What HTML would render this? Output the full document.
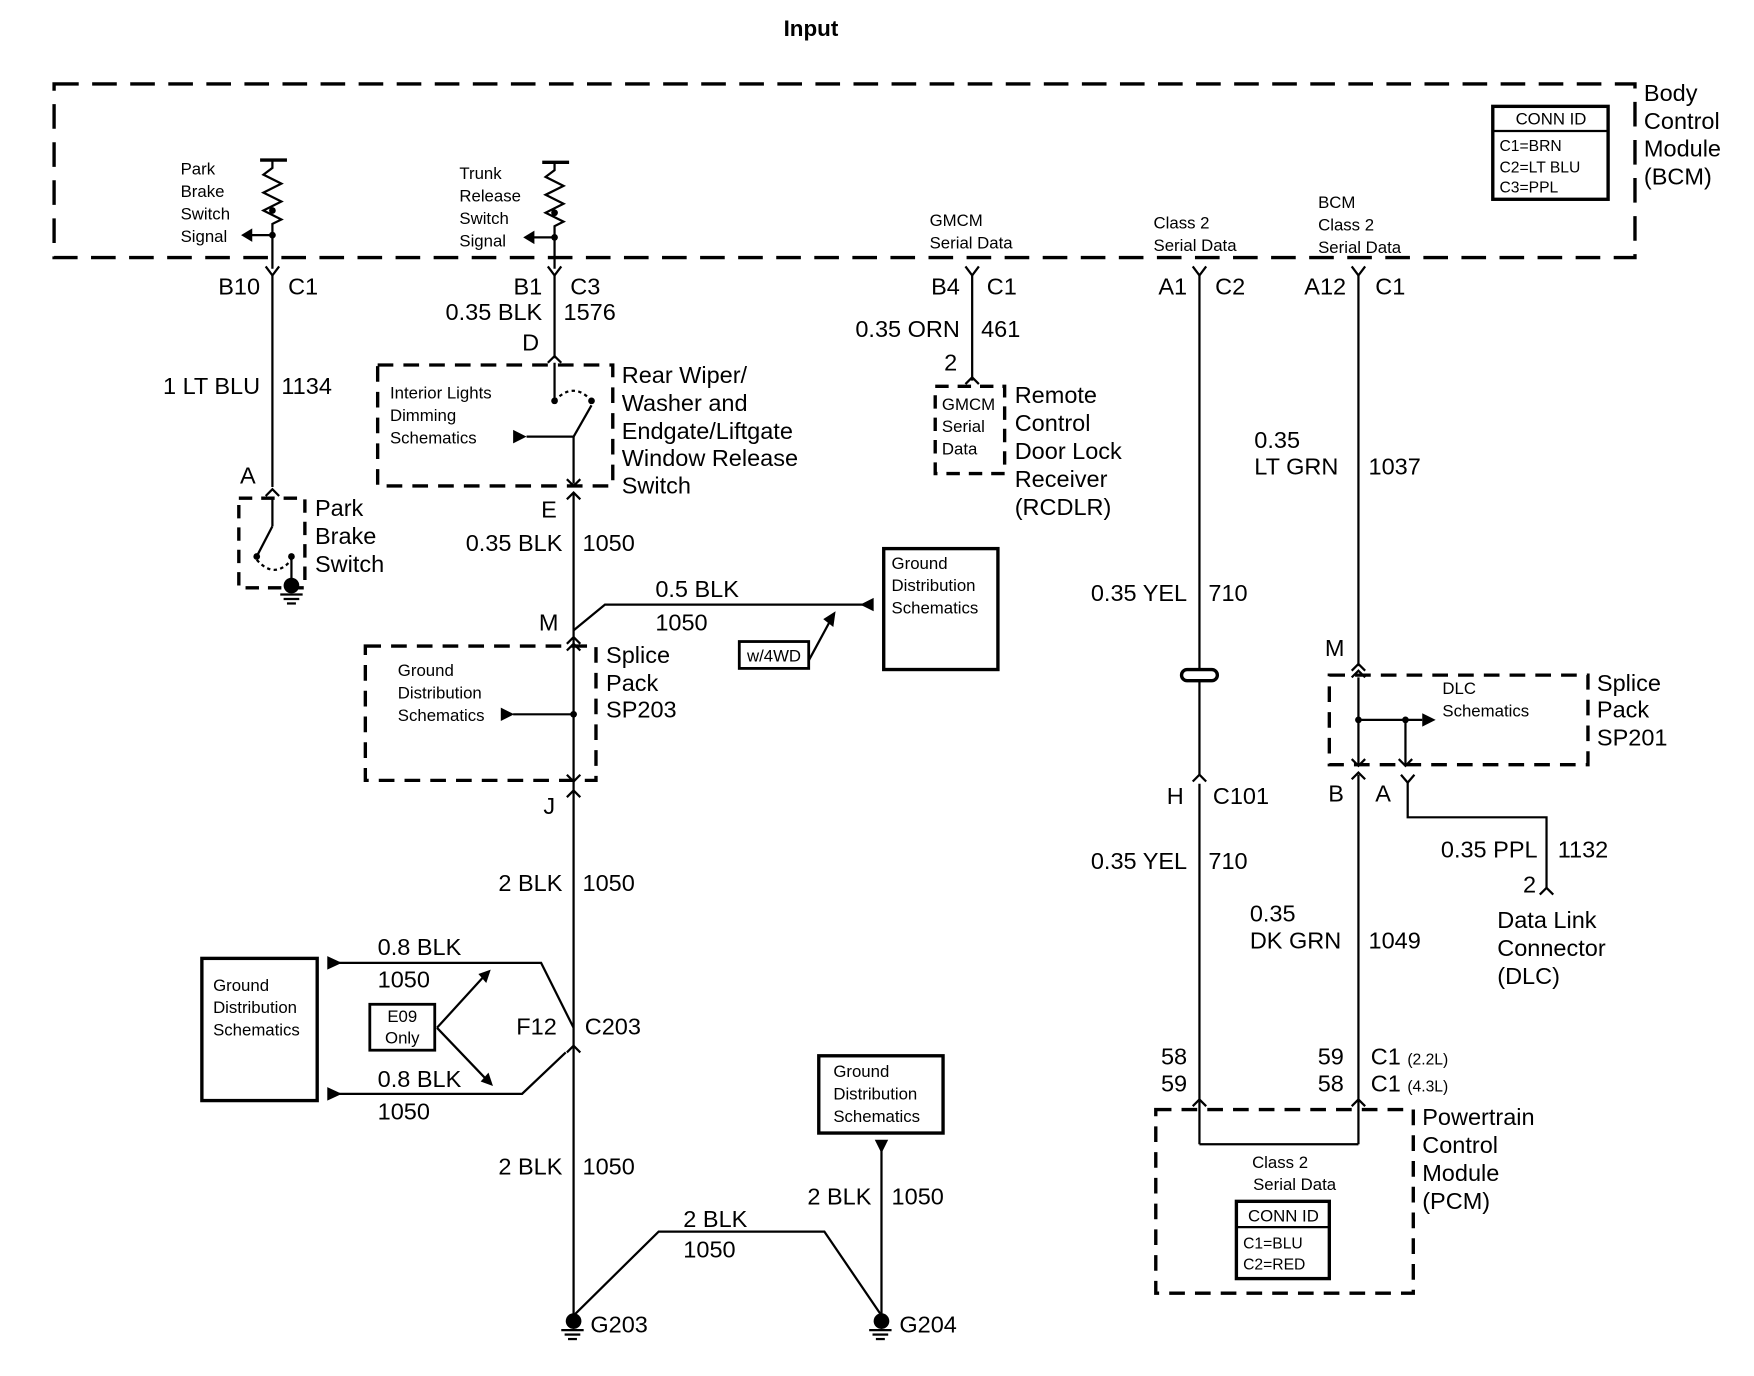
<!DOCTYPE html>
<html><head><meta charset="utf-8"><style>
html,body{margin:0;padding:0;background:#fff;}
svg{display:block;}
text{font-family:"Liberation Sans",Arial,sans-serif;fill:#000;}
.l{font-size:21px;}
.s{font-size:15px;}
.x{font-size:14px;}
</style></head><body>
<svg width="1754" height="1376" viewBox="0 0 1566 1229" xmlns="http://www.w3.org/2000/svg">
<g stroke="#000" fill="none" stroke-width="2">
<rect x="48" y="75" width="1412" height="155" stroke-width="3" stroke-dasharray="22,12"/>
<rect x="1333" y="95" width="103" height="83" stroke-width="3"/>
<line x1="1333" y1="117" x2="1436" y2="117"/>
<line x1="232" y1="143" x2="256" y2="143" stroke-width="3"/>
<polyline points="243,143 243,150 235,156 251,164 235,172 251,180 235,188 251,196 243,200 243,240"/>
<line x1="243" y1="210" x2="222" y2="210"/>
<line x1="484" y1="145" x2="508" y2="145" stroke-width="3"/>
<polyline points="495,145 495,152 487,158 503,166 487,174 503,182 487,190 503,198 495,202 495,240"/>
<line x1="495" y1="212" x2="474" y2="212"/>
<polyline points="237,238 243,246 249,238"/><line x1="243" y1="246" x2="243" y2="435"/>
<polyline points="489,238 495,246 501,238"/><line x1="495" y1="246" x2="495" y2="320"/>
<polyline points="862,238 868,246 874,238"/><line x1="868" y1="246" x2="868" y2="340"/>
<polyline points="1065,238 1071,246 1077,238"/><line x1="1071" y1="246" x2="1071" y2="598"/>
<polyline points="1207,238 1213,246 1219,238"/><line x1="1213" y1="246" x2="1213" y2="595"/>
<rect x="213" y="445" width="59" height="80" stroke-dasharray="12,8" stroke-width="3"/>
<polyline points="237,443 243,437 249,443"/>
<line x1="243" y1="445" x2="243" y2="470"/>
<line x1="243" y1="470" x2="229" y2="497"/>
<path d="M229,500 Q245,518 260,500" stroke-dasharray="3,3"/>
<line x1="260" y1="497" x2="260" y2="520"/>
<line x1="250" y1="531" x2="270" y2="531"/><line x1="253" y1="535" x2="267" y2="535"/><line x1="256" y1="539" x2="264" y2="539"/>
<rect x="337" y="326" width="210" height="108" stroke-dasharray="14,9" stroke-width="3"/>
<polyline points="489,324 495,318 501,324"/>
<line x1="495" y1="324" x2="495" y2="358"/>
<path d="M495,358 Q512,340 528,358" stroke-dasharray="3,3"/>
<line x1="512" y1="390" x2="528" y2="362"/>
<line x1="470" y1="390" x2="512" y2="390"/>
<line x1="512" y1="390" x2="512" y2="432"/>
<polyline points="506,428 512,434 518,428"/>
<polyline points="506,446 512,440 518,446"/>
<line x1="512" y1="440" x2="512" y2="1180"/>
<polyline points="512,563 540,540 772,540"/>
<rect x="789" y="490" width="102" height="108" stroke-width="3"/>
<rect x="660" y="573" width="62" height="24" stroke-width="2.5"/>
<line x1="722" y1="590" x2="742" y2="553"/>
<rect x="326" y="577" width="206" height="120" stroke-dasharray="14,9" stroke-width="3"/>
<polyline points="506,575 512,569 518,575"/>
<polyline points="506,581 512,575 518,581"/>
<line x1="458" y1="638" x2="512" y2="638"/>
<polyline points="506,692 512,698 518,692"/>
<polyline points="506,712 512,706 518,712"/>
<rect x="180" y="856" width="103" height="127" stroke-width="3"/>
<polyline points="300,860 483,860 512,918"/>
<polyline points="300,977 466,977 505,940"/>
<rect x="330" y="897" width="58" height="41" stroke-width="2.5"/>
<line x1="390" y1="918" x2="432" y2="872"/>
<line x1="390" y1="918" x2="434" y2="964"/>
<polyline points="506,940 512,934 518,940"/>
<polyline points="512,1175 588,1100 736,1100 787,1175"/>
<rect x="731" y="943" width="111" height="69" stroke-width="3"/>
<line x1="787" y1="1020" x2="787" y2="1180"/>
<line x1="501" y1="1188" x2="521" y2="1188"/><line x1="504" y1="1192" x2="518" y2="1192"/><line x1="507" y1="1196" x2="515" y2="1196"/>
<line x1="776" y1="1188" x2="796" y2="1188"/><line x1="779" y1="1192" x2="793" y2="1192"/><line x1="782" y1="1196" x2="790" y2="1196"/>
<polyline points="862,343 868,337 874,343"/>
<rect x="835" y="345" width="62" height="78" stroke-dasharray="12,8" stroke-width="3"/>
<rect x="1055" y="598" width="32" height="10" rx="5" stroke-width="3"/>
<line x1="1071" y1="608" x2="1071" y2="692"/>
<polyline points="1065,698 1071,692 1077,698"/>
<line x1="1071" y1="700" x2="1071" y2="1022"/>
<polyline points="1065,988 1071,982 1077,988"/>
<line x1="1071" y1="1022" x2="1213" y2="1022"/>
<polyline points="1207,599 1213,593 1219,599"/>
<rect x="1187" y="603" width="231" height="80" stroke-dasharray="14,9" stroke-width="3"/>
<polyline points="1207,605 1213,599 1219,605"/>
<line x1="1213" y1="605" x2="1213" y2="683"/>
<line x1="1213" y1="643" x2="1270" y2="643"/>
<line x1="1255" y1="643" x2="1255" y2="683"/>
<polyline points="1207,678 1213,684 1219,678"/>
<polyline points="1249,678 1255,684 1261,678"/>
<polyline points="1207,696 1213,690 1219,696"/>
<polyline points="1251,692 1257,699 1263,692"/>
<polyline points="1257,699 1257,730 1381,730 1381,793"/>
<polyline points="1375,799 1381,793 1387,799"/>
<line x1="1213" y1="692" x2="1213" y2="1022"/>
<polyline points="1207,988 1213,982 1219,988"/>
<rect x="1032" y="991" width="230" height="164" stroke-dasharray="14,9" stroke-width="3"/>
<rect x="1104" y="1073" width="83" height="69" stroke-width="3"/>
<line x1="1104" y1="1096" x2="1187" y2="1096"/>
</g>
<g fill="#000">
<polygon points="215,210 225,204 225,216"/>
<polygon points="467,212 477,206 477,218"/>
<circle cx="243" cy="188" r="3"/><circle cx="495" cy="190" r="3"/>
<circle cx="243" cy="210" r="3"/><circle cx="495" cy="212" r="3"/>
<circle cx="495" cy="358" r="3"/><circle cx="528" cy="358" r="3"/>
<circle cx="229" cy="497" r="3"/><circle cx="260" cy="497" r="3"/>
<circle cx="260" cy="523" r="7"/>
<polygon points="458,384 470,390 458,396"/>
<polygon points="768,540 780,534 780,546"/>
<polygon points="746,546 735,553 744,560"/>
<polygon points="447,632 459,638 447,644"/>
<circle cx="512" cy="638" r="3"/>
<polygon points="292,854 305,860 292,866"/>
<polygon points="292,971 305,977 292,983"/>
<polygon points="438,866 427,870 434,878"/>
<polygon points="440,970 429,966 436,958"/>
<polygon points="781,1018 793,1018 787,1030"/>
<circle cx="512" cy="1180" r="7"/><circle cx="787" cy="1180" r="7"/>
<circle cx="1213" cy="643" r="3"/><circle cx="1255" cy="643" r="3"/>
<polygon points="1270,637 1282,643 1270,649"/>
</g>
<text x="724" y="32" text-anchor="middle" font-size="20" font-weight="bold">Input</text>
<g class="l">
<text x="1468" y="90">Body</text><text x="1468" y="115">Control</text><text x="1468" y="140">Module</text><text x="1468" y="165">(BCM)</text>
<text x="232" y="263" text-anchor="end">B10</text><text x="257" y="263">C1</text>
<text x="232" y="352" text-anchor="end">1 LT BLU</text><text x="251" y="352">1134</text>
<text x="214" y="432">A</text>
<text x="281" y="461">Park</text><text x="281" y="486">Brake</text><text x="281" y="511">Switch</text>
<text x="484" y="263" text-anchor="end">B1</text><text x="509" y="263">C3</text>
<text x="484" y="286" text-anchor="end">0.35 BLK</text><text x="503" y="286">1576</text>
<text x="466" y="313">D</text>
<text x="555" y="342">Rear Wiper/</text><text x="555" y="367">Washer and</text><text x="555" y="392">Endgate/Liftgate</text><text x="555" y="416">Window Release</text><text x="555" y="441">Switch</text>
<text x="483" y="462">E</text>
<text x="502" y="492" text-anchor="end">0.35 BLK</text><text x="520" y="492">1050</text>
<text x="481" y="563">M</text>
<text x="585" y="533">0.5 BLK</text><text x="585" y="563">1050</text>
<text x="541" y="592">Splice</text><text x="541" y="617">Pack</text><text x="541" y="641">SP203</text>
<text x="485" y="727">J</text>
<text x="502" y="796" text-anchor="end">2 BLK</text><text x="520" y="796">1050</text>
<text x="337" y="853">0.8 BLK</text><text x="337" y="882">1050</text>
<text x="337" y="971">0.8 BLK</text><text x="337" y="1000">1050</text>
<text x="497" y="924" text-anchor="end">F12</text><text x="522" y="924">C203</text>
<text x="502" y="1049" text-anchor="end">2 BLK</text><text x="520" y="1049">1050</text>
<text x="610" y="1096">2 BLK</text><text x="610" y="1123">1050</text>
<text x="778" y="1076" text-anchor="end">2 BLK</text><text x="796" y="1076">1050</text>
<text x="527" y="1190">G203</text><text x="803" y="1190">G204</text>
<text x="857" y="263" text-anchor="end">B4</text><text x="881" y="263">C1</text>
<text x="857" y="301" text-anchor="end">0.35 ORN</text><text x="876" y="301">461</text>
<text x="843" y="331">2</text>
<text x="906" y="360">Remote</text><text x="906" y="385">Control</text><text x="906" y="410">Door Lock</text><text x="906" y="435">Receiver</text><text x="906" y="460">(RCDLR)</text>
<text x="1060" y="263" text-anchor="end">A1</text><text x="1085" y="263">C2</text>
<text x="1060" y="537" text-anchor="end">0.35 YEL</text><text x="1079" y="537">710</text>
<text x="1057" y="718" text-anchor="end">H</text><text x="1083" y="718">C101</text>
<text x="1060" y="776" text-anchor="end">0.35 YEL</text><text x="1079" y="776">710</text>
<text x="1060" y="951" text-anchor="end">58</text><text x="1060" y="975" text-anchor="end">59</text>
<text x="1202" y="263" text-anchor="end">A12</text><text x="1228" y="263">C1</text>
<text x="1120" y="400">0.35</text><text x="1120" y="424">LT GRN</text><text x="1222" y="424">1037</text>
<text x="1183" y="586">M</text>
<text x="1426" y="617">Splice</text><text x="1426" y="641">Pack</text><text x="1426" y="666">SP201</text>
<text x="1200" y="716" text-anchor="end">B</text><text x="1228" y="716">A</text>
<text x="1373" y="766" text-anchor="end">0.35 PPL</text><text x="1391" y="766">1132</text>
<text x="1360" y="797">2</text>
<text x="1337" y="829">Data Link</text><text x="1337" y="854">Connector</text><text x="1337" y="879">(DLC)</text>
<text x="1116" y="823">0.35</text><text x="1116" y="847">DK GRN</text><text x="1222" y="847">1049</text>
<text x="1200" y="951" text-anchor="end">59</text><text x="1200" y="975" text-anchor="end">58</text>
<text x="1224" y="951">C1 <tspan font-size="14">(2.2L)</tspan></text><text x="1224" y="975">C1 <tspan font-size="14">(4.3L)</tspan></text>
<text x="1270" y="1005">Powertrain</text><text x="1270" y="1030">Control</text><text x="1270" y="1055">Module</text><text x="1270" y="1080">(PCM)</text>
</g>
<g class="s">
<text x="1385" y="111" text-anchor="middle">CONN ID</text>
<text x="1339" y="135" class="x">C1=BRN</text><text x="1339" y="154" class="x">C2=LT BLU</text><text x="1339" y="172" class="x">C3=PPL</text>
<text x="161" y="156">Park</text><text x="161" y="176">Brake</text><text x="161" y="196">Switch</text><text x="161" y="216">Signal</text>
<text x="410" y="160">Trunk</text><text x="410" y="180">Release</text><text x="410" y="200">Switch</text><text x="410" y="220">Signal</text>
<text x="830" y="202">GMCM</text><text x="830" y="222">Serial Data</text>
<text x="1030" y="204">Class 2</text><text x="1030" y="224">Serial Data</text>
<text x="1177" y="186">BCM</text><text x="1177" y="206">Class 2</text><text x="1177" y="226">Serial Data</text>
<text x="348" y="356">Interior Lights</text><text x="348" y="376">Dimming</text><text x="348" y="396">Schematics</text>
<text x="796" y="508">Ground</text><text x="796" y="528">Distribution</text><text x="796" y="548">Schematics</text>
<text x="691" y="591" text-anchor="middle">w/4WD</text>
<text x="355" y="604">Ground</text><text x="355" y="624">Distribution</text><text x="355" y="644">Schematics</text>
<text x="190" y="885">Ground</text><text x="190" y="905">Distribution</text><text x="190" y="925">Schematics</text>
<text x="359" y="913" text-anchor="middle">E09</text><text x="359" y="932" text-anchor="middle">Only</text>
<text x="744" y="962">Ground</text><text x="744" y="982">Distribution</text><text x="744" y="1002">Schematics</text>
<text x="841" y="366">GMCM</text><text x="841" y="386">Serial</text><text x="841" y="406">Data</text>
<text x="1288" y="620">DLC</text><text x="1288" y="640">Schematics</text>
<text x="1143" y="1043" text-anchor="middle">Class 2</text><text x="1156" y="1063" text-anchor="middle">Serial Data</text>
<text x="1146" y="1091" text-anchor="middle">CONN ID</text>
<text x="1110" y="1115" class="x">C1=BLU</text><text x="1110" y="1134" class="x">C2=RED</text>
</g>
</svg>
</body></html>
